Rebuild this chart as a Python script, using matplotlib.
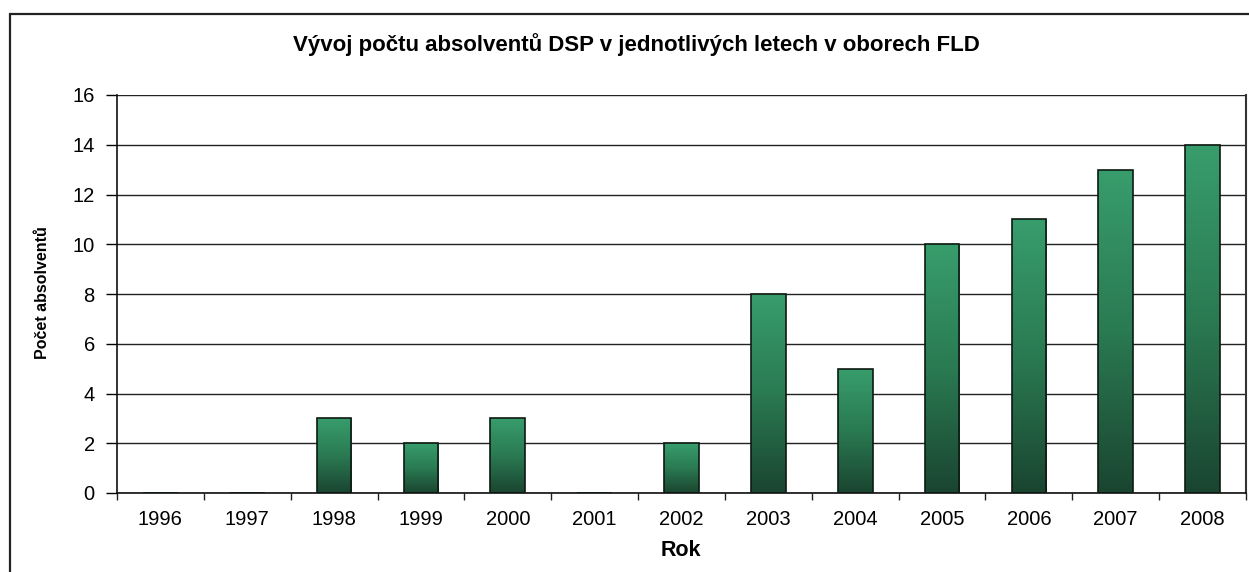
import matplotlib
matplotlib.use("Agg")
import matplotlib.pyplot as plt
import numpy as np
from matplotlib.colors import LinearSegmentedColormap
from matplotlib.patches import Rectangle

years = ["1996", "1997", "1998", "1999", "2000", "2001", "2002",
         "2003", "2004", "2005", "2006", "2007", "2008"]
graduates = [0, 0, 3, 2, 3, 0, 2, 8, 5, 10, 11, 13, 14]
yticks = [0, 2, 4, 6, 8, 10, 12, 14, 16]

title = "Vývoj počtu absolventů DSP v jednotlivých letech v oborech FLD"
xlabel = "Rok"
ylabel = "Počet absolventů"

plt.rcParams['font.family'] = ['Liberation Sans', 'DejaVu Sans']

W, H = 1249, 572
fig = plt.figure(figsize=(W / 100, H / 100), dpi=100)
ax = fig.add_axes([117 / W, 1 - 493 / H, (1246 - 117) / W, (493 - 95) / H])

x = np.arange(len(years))
bars = ax.bar(x, graduates, width=0.4, color='none', edgecolor='#0d1a12',
              linewidth=1.2, zorder=3)

cmap = LinearSegmentedColormap.from_list("g", ["#1a4530", "#2a7a52", "#389d6c"])
grad = np.linspace(0, 1, 256).reshape(-1, 1)
for b in bars:
    h = b.get_height()
    if h <= 0:
        continue
    x0 = b.get_x()
    w = b.get_width()
    im = ax.imshow(grad, cmap=cmap, origin='lower', aspect='auto',
                   extent=(x0, x0 + w, 0, h), zorder=2, interpolation='bilinear')
    im.set_clip_path(b)

ax.set_xlim(-0.5, len(years) - 0.5)
ax.set_ylim(0, 16)
ax.set_yticks(yticks)
ax.set_xticks(x)
ax.set_xticklabels(years)
ax.set_xticks(np.arange(-0.5, len(years)), minor=True)
ax.tick_params(axis='x', which='major', length=0, pad=12, labelsize=14.5)
ax.tick_params(axis='x', which='minor', length=5, width=1, direction='out', color='#222')
ax.tick_params(axis='y', length=8, width=1, direction='out', pad=8, labelsize=14.5)
ax.grid(axis='y', color='#222', linewidth=1, zorder=0)
ax.set_axisbelow(True)
for s in ['left', 'bottom']:
    ax.spines[s].set_color('#111')
    ax.spines[s].set_linewidth(1.2)
ax.spines['top'].set_visible(False)
ax.spines['right'].set_color('#333')
ax.spines['right'].set_linewidth(1.5)

fig.text(636 / W, 1 - 45 / H, title, ha='center', va='center',
         fontsize=16, fontweight='bold')
fig.text(681 / W, 1 - 551 / H, xlabel, ha='center', va='center',
         fontsize=15.5, fontweight='bold')
fig.text(43 / W, 1 - 293 / H, ylabel, ha='center', va='center',
         fontsize=11.5, fontweight='bold', rotation=90)

fig.patches.append(Rectangle((10 / W, -0.2), 1.5, 1 - 14 / H + 0.2,
                             transform=fig.transFigure, fill=False,
                             edgecolor='#222', linewidth=1.6))

fig.savefig("out.png", dpi=100)
